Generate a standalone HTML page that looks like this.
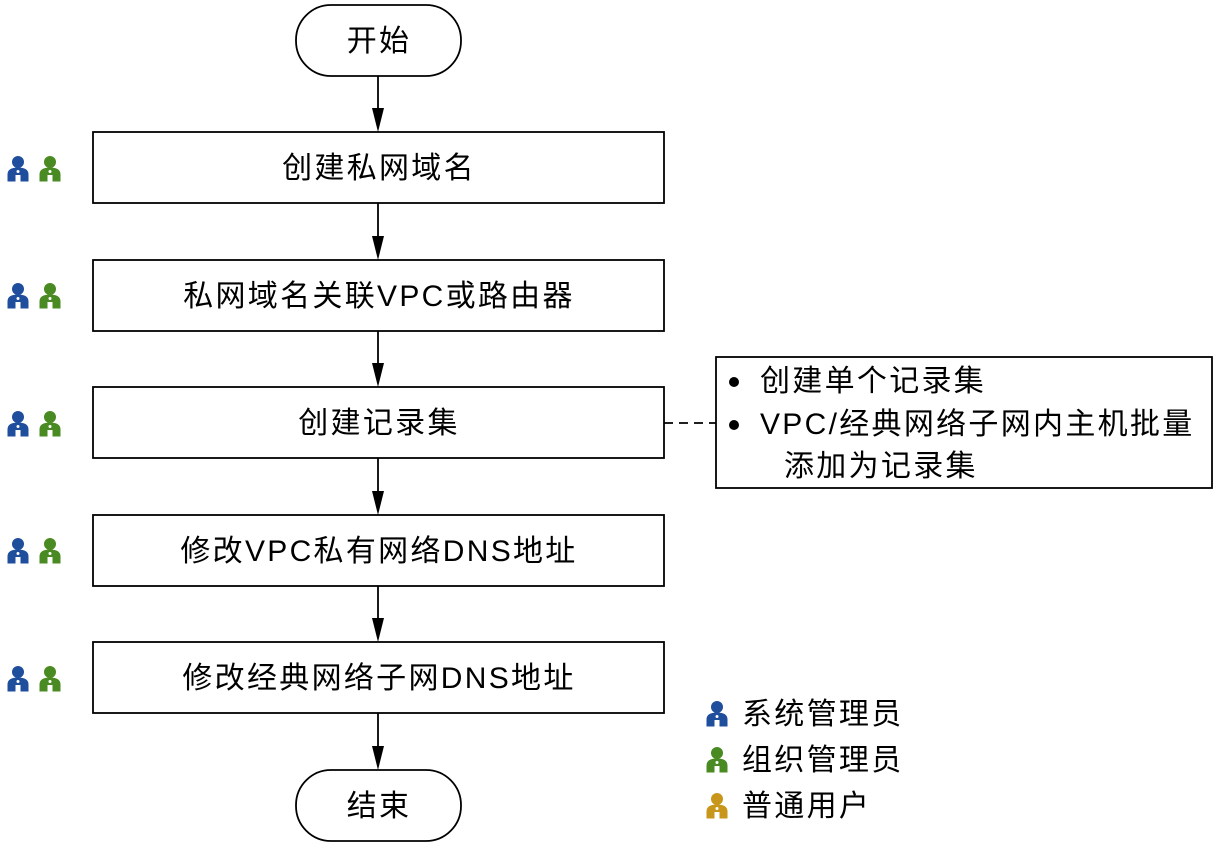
<!DOCTYPE html>
<html><head><meta charset="utf-8"><style>
html,body{margin:0;padding:0;background:#fff;}
svg{display:block;}
text{font-family:"Liberation Sans","Noto Sans CJK SC",sans-serif;font-size:30px;letter-spacing:2.3px;fill:#000;}
</style></head><body>
<svg width="1218" height="846" viewBox="0 0 1218 846" xmlns="http://www.w3.org/2000/svg">
<defs>
<symbol id="p" viewBox="0 0 22 26">
<circle cx="11" cy="6.5" r="6"/>
<path d="M0.5 26 V19 Q0.5 12 11 12 Q21.5 12 21.5 19 V26 H13.5 V19.5 H8.5 V26 Z"/>
<circle cx="11" cy="16" r="1.5" fill="#fff"/>
</symbol>
</defs>
<g fill="none" stroke="#000" stroke-width="1.8">
<rect x="296" y="5" width="165" height="71" rx="35"/>
<rect x="296" y="770" width="165" height="71" rx="35"/>
<rect x="93" y="132" width="571" height="71"/>
<rect x="93" y="260" width="571" height="71"/>
<rect x="93" y="387" width="571" height="71"/>
<rect x="93" y="515" width="571" height="71"/>
<rect x="93" y="642" width="571" height="71"/>
<rect x="716" y="357" width="496" height="131"/>
<line x1="664" y1="423" x2="716" y2="423" stroke-dasharray="9,6"/>
<line x1="378" y1="76" x2="378" y2="110"/>
<line x1="378" y1="203" x2="378" y2="238"/>
<line x1="378" y1="331" x2="378" y2="365"/>
<line x1="378" y1="458" x2="378" y2="493"/>
<line x1="378" y1="586" x2="378" y2="620"/>
<line x1="378" y1="713" x2="378" y2="748"/>
</g>
<g fill="#000">
<path d="M372 108 L384 108 L378 132 Z"/>
<path d="M372 236 L384 236 L378 260 Z"/>
<path d="M372 363 L384 363 L378 387 Z"/>
<path d="M372 491 L384 491 L378 515 Z"/>
<path d="M372 618 L384 618 L378 642 Z"/>
<path d="M372 746 L384 746 L378 770 Z"/>
<circle cx="734" cy="382" r="5"/>
<circle cx="734" cy="425" r="5"/>
</g>
<g text-anchor="middle">
<text x="379" y="51">开始</text>
<text x="379" y="816">结束</text>
<text x="379" y="178">创建私网域名</text>
<text x="379" y="306">私网域名关联VPC或路由器</text>
<text x="379" y="433">创建记录集</text>
<text x="379" y="561">修改VPC私有网络DNS地址</text>
<text x="379" y="688">修改经典网络子网DNS地址</text>
</g>
<text x="760" y="391">创建单个记录集</text>
<text x="760" y="434">VPC/经典网络子网内主机批量</text>
<text x="784" y="476">添加为记录集</text>
<text x="742" y="724">系统管理员</text>
<text x="742" y="770">组织管理员</text>
<text x="742" y="816">普通用户</text>
<g fill="#1f4e9c">
<use href="#p" x="7" y="155" width="22" height="27"/>
<use href="#p" x="7" y="282" width="22" height="27"/>
<use href="#p" x="7" y="410" width="22" height="27"/>
<use href="#p" x="7" y="537" width="22" height="27"/>
<use href="#p" x="7" y="665" width="22" height="27"/>
<use href="#p" x="706" y="700" width="22" height="27"/>
</g>
<g fill="#4a8a22">
<use href="#p" x="39" y="155" width="22" height="27"/>
<use href="#p" x="39" y="282" width="22" height="27"/>
<use href="#p" x="39" y="410" width="22" height="27"/>
<use href="#p" x="39" y="537" width="22" height="27"/>
<use href="#p" x="39" y="665" width="22" height="27"/>
<use href="#p" x="706" y="746" width="22" height="27"/>
</g>
<g fill="#c8961a">
<use href="#p" x="706" y="792" width="22" height="27"/>
</g>
</svg>
</body></html>
